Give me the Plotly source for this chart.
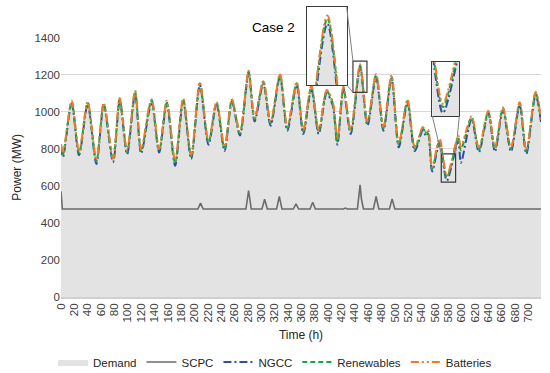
import plotly.graph_objects as go

# ---------------- data ----------------
HOURS = [0, 3, 16, 27, 40, 53, 64, 78, 88, 99, 111, 120, 132, 136, 147, 158, 161, 171, 183, 195,
         208, 221, 233, 245, 256, 268, 281, 290, 303, 314, 328, 339, 353, 363, 375, 386, 398, 407,
         414, 423, 434, 448, 459, 472, 483, 495, 506, 519, 530, 542, 547, 550, 556, 567, 578, 595,
         599, 615, 626, 640, 650, 662, 674, 687, 697, 711, 719]

DEMAND = [820, 768, 1055, 777, 1050, 732, 1043, 740, 1070, 780, 1110, 785, 1020, 1064, 790, 1055,
          1010, 722, 1068, 758, 1154, 834, 1050, 800, 1064, 884, 1217, 960, 1163, 938, 1199, 911,
          1154, 893, 1136, 893, 1112, 1048, 839, 1130, 893, 1250, 938, 1199, 911, 1190, 821, 1060,
          800, 911, 880, 895, 690, 845, 640, 860, 790, 970, 794, 1001, 798, 1019, 798, 1046, 785,
          1103, 956]

NGCC = [810, 755, 1045, 765, 1040, 718, 1035, 728, 1060, 770, 1100, 775, 1005, 1055, 780, 1045,
        1000, 708, 1058, 745, 1145, 822, 1040, 788, 1055, 872, 1208, 948, 1152, 925, 1190, 898,
        1145, 880, 1125, 880, 1100, 1035, 822, 1120, 880, 1238, 925, 1188, 898, 1180, 808, 1050,
        788, 900, 868, 880, 678, 830, 628, 845, 724, 960, 782, 992, 785, 1008, 785, 1036, 772,
        1092, 945]

RENEWABLES = [820, 768, 1055, 777, 1050, 732, 1043, 740, 1070, 780, 1110, 785, 1020, 1064, 790,
              1055, 1010, 722, 1068, 758, 1154, 834, 1050, 800, 1064, 884, 1217, 960, 1163, 938,
              1199, 911, 1154, 893, 1136, 893, 1112, 1048, 839, 1130, 893, 1250, 938, 1199, 911,
              1190, 821, 1060, 800, 911, 880, 895, 690, 845, 645, 860, 794, 970, 794, 1001, 798,
              1019, 798, 1046, 785, 1103, 956]

BATTERIES = [825, 775, 1060, 785, 1055, 740, 1048, 748, 1075, 790, 1115, 795, 1030, 1068, 798,
             1060, 1020, 735, 1072, 768, 1160, 842, 1055, 810, 1068, 892, 1222, 968, 1168, 946,
             1205, 920, 1160, 902, 1142, 902, 1118, 1055, 850, 1136, 902, 1256, 948, 1204, 920,
             1196, 832, 1066, 810, 918, 888, 902, 702, 855, 655, 872, 812, 976, 804, 1006, 808,
             1024, 808, 1052, 795, 1108, 962]

SCPC_HOURS = [0, 1, 2, 205, 209, 213, 277, 281, 285, 301, 305, 309, 323, 327, 331, 348, 352, 356,
              373, 377, 381, 423, 426, 429, 444, 448, 450, 453, 468, 472, 476, 492, 496, 500, 719]
SCPC = [570, 520, 475, 475, 507, 475, 475, 575, 475, 475, 528, 475, 475, 543, 475, 475, 503, 475,
        475, 512, 475, 475, 480, 475, 475, 605, 530, 475, 475, 543, 475, 475, 530, 475, 475]

X_TICKS = list(range(0, 720, 20))
Y_TICKS = [0, 200, 400, 600, 800, 1000, 1200, 1400]

# zoom windows of the two insets: (hour range, MW range)
ZOOM1 = ([437.3, 458.3], [1105, 1274])
ZOOM2 = ([569.6, 591.1], [620, 773])

# ---------------- layout geometry ----------------
W, H = 550, 373
L, R, T, B = 61, 9, 5, 76
PW, PH = W - L - R, H - T - B
X_MAX, Y_MAX = 719, 1400


def pxx(px):
    return (px - L) / PW


def pyy(py):
    return (H - B - py) / PH


Y_TOP = pyy(37.7)
INSET1 = ([pxx(307.3), pxx(346.7)], [pyy(85), pyy(7.3)])
INSET2 = ([pxx(432.3), pxx(459.3)], [pyy(116), pyy(62.3)])

FONT = "Liberation Sans, Arial, sans-serif"
C_FILL = "#E3E3E3"
C_SCPC = "#6B6B6B"
C_NGCC = "#2F4E9E"
C_REN = "#12A84A"
C_BAT = "#F07A2A"

fig = go.Figure()

for k, (xa, ya) in enumerate([("x", "y"), ("x2", "y2"), ("x3", "y3")]):
    main = k == 0
    fig.add_trace(go.Scatter(x=HOURS, y=DEMAND, name="Demand", mode="lines",
                             line=dict(width=0, color=C_FILL, shape="spline", smoothing=0.8),
                             fill="tozeroy", fillcolor=C_FILL, showlegend=main,
                             xaxis=xa, yaxis=ya, hoverinfo="skip"))
    fig.add_trace(go.Scatter(x=SCPC_HOURS, y=SCPC, name="SCPC", mode="lines",
                             line=dict(width=1.6, color=C_SCPC), showlegend=main,
                             xaxis=xa, yaxis=ya, hoverinfo="skip"))
    fig.add_trace(go.Scatter(x=HOURS, y=NGCC, name="NGCC", mode="lines",
                             line=dict(width=2, color=C_NGCC, dash="8px,3px,2px,3px",
                                       shape="spline", smoothing=0.8),
                             showlegend=main, xaxis=xa, yaxis=ya, hoverinfo="skip"))
    fig.add_trace(go.Scatter(x=HOURS, y=RENEWABLES, name="Renewables", mode="lines",
                             line=dict(width=2, color=C_REN, dash="5px,3px",
                                       shape="spline", smoothing=0.8),
                             showlegend=main, xaxis=xa, yaxis=ya, hoverinfo="skip"))
    fig.add_trace(go.Scatter(x=HOURS, y=BATTERIES, name="Batteries", mode="lines",
                             line=dict(width=2, color=C_BAT, dash="8px,3px,2px,3px,2px,3px",
                                       shape="spline", smoothing=0.8),
                             showlegend=main, xaxis=xa, yaxis=ya, hoverinfo="skip"))

inset_axis = dict(showgrid=False, zeroline=False, showticklabels=False, ticks="",
                  showline=True, mirror=True, linecolor="#3A3A3A", linewidth=1.2,
                  automargin=False)

fig.update_layout(
    width=W, height=H,
    margin=dict(l=L, r=R, t=T, b=B, autoexpand=False),
    paper_bgcolor="white", plot_bgcolor="white",
    font=dict(family=FONT, size=11.5, color="#404040"),
    hovermode=False,
    xaxis=dict(range=[0, X_MAX], domain=[0, 1], tickvals=X_TICKS, tickangle=-90,
               showgrid=False, zeroline=False, showline=True, linecolor="#D0D0D0",
               linewidth=1.5, ticks="", tickfont=dict(size=11.5, color="#404040"),
               automargin=False,
               title=dict(text="Time (h)", font=dict(size=12, color="#262626"), standoff=9)),
    yaxis=dict(range=[0, Y_MAX], domain=[0, Y_TOP], tickvals=Y_TICKS, showgrid=True,
               gridcolor="#D9D9D9", gridwidth=1, zeroline=False, showline=False, ticks="",
               tickfont=dict(size=11.5, color="#404040"), automargin=False,
               title=dict(text="Power (MW)", font=dict(size=12, color="#262626"), standoff=10)),
    xaxis2=dict(range=ZOOM1[0], domain=INSET1[0], anchor="y2", **inset_axis),
    yaxis2=dict(range=ZOOM1[1], domain=INSET1[1], anchor="x2", **inset_axis),
    xaxis3=dict(range=ZOOM2[0], domain=INSET2[0], anchor="y3", **inset_axis),
    yaxis3=dict(range=ZOOM2[1], domain=INSET2[1], anchor="x3", **inset_axis),
    legend=dict(orientation="h", x=pxx(275), xanchor="center", y=pyy(362), yanchor="middle",
                font=dict(size=11.5, color="#262626"), bgcolor="rgba(0,0,0,0)",
                itemwidth=30, tracegroupgap=0),
    showlegend=True,
    annotations=[dict(text="Case 2", xref="paper", yref="paper", x=pxx(273), y=pyy(18),
                      showarrow=False, font=dict(size=13.5, color="#000000"))],
)


def to_paper(h, v):
    return h / X_MAX, v / Y_MAX * Y_TOP


shapes = []
for (hr, vr) in (ZOOM1, ZOOM2):
    shapes.append(dict(type="rect", xref="x", yref="y", x0=hr[0], x1=hr[1], y0=vr[0], y1=vr[1],
                       line=dict(color="#3A3A3A", width=1.2), layer="above"))

# connectors for inset 1: large box right edge -> small box left edge
s1_tl = to_paper(ZOOM1[0][0], ZOOM1[1][1])
s1_bl = to_paper(ZOOM1[0][0], ZOOM1[1][0])
shapes.append(dict(type="line", xref="paper", yref="paper", x0=INSET1[0][1], y0=INSET1[1][1],
                   x1=s1_tl[0], y1=s1_tl[1], line=dict(color="#808080", width=1)))
shapes.append(dict(type="line", xref="paper", yref="paper", x0=INSET1[0][1], y0=INSET1[1][0],
                   x1=s1_bl[0], y1=s1_bl[1], line=dict(color="#808080", width=1)))
# connectors for inset 2: large box bottom -> small box top
s2_tl = to_paper(ZOOM2[0][0], ZOOM2[1][1])
s2_tr = to_paper(ZOOM2[0][1], ZOOM2[1][1])
shapes.append(dict(type="line", xref="paper", yref="paper", x0=INSET2[0][0], y0=INSET2[1][0],
                   x1=s2_tl[0], y1=s2_tl[1], line=dict(color="#808080", width=1)))
shapes.append(dict(type="line", xref="paper", yref="paper", x0=INSET2[0][1], y0=INSET2[1][0],
                   x1=s2_tr[0], y1=s2_tr[1], line=dict(color="#808080", width=1)))
fig.update_layout(shapes=shapes)

fig.write_html("out.html", config={"displayModeBar": False},
               post_script="document.body.style.margin='0';document.body.style.padding='0';")
